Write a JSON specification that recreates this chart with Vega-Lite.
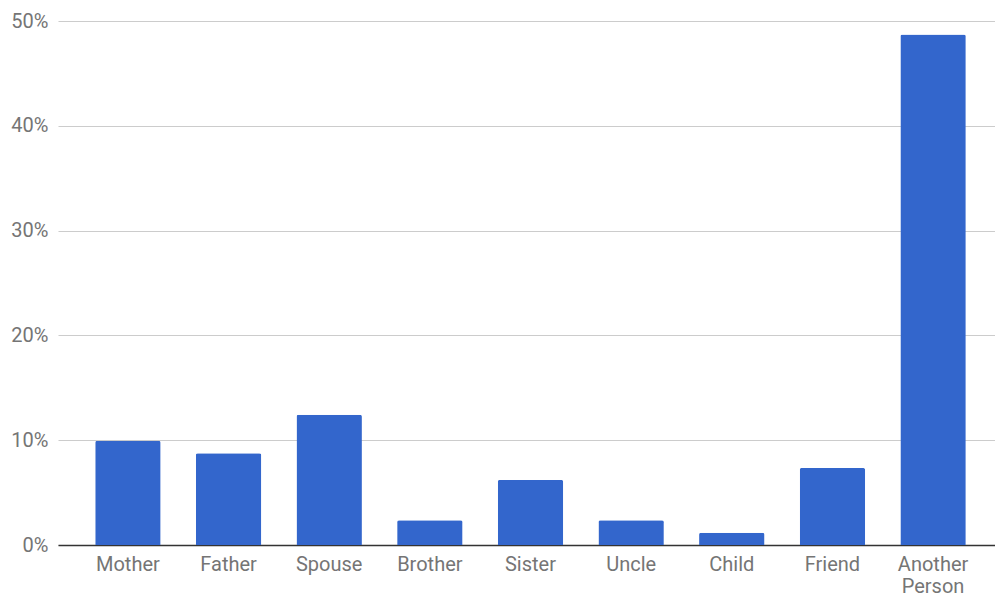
{
  "$schema": "https://vega.github.io/schema/vega-lite/v6.json",
  "autosize": {"type": "none"},
  "width": 937,
  "height": 524,
  "padding": {"left": 58, "top": 21, "right": 0, "bottom": 54},
  "background": "white",
  "data": {
    "values": [
      {"who": "Mother", "share": 0.0995},
      {"who": "Father", "share": 0.0875},
      {"who": "Spouse", "share": 0.1243},
      {"who": "Brother", "share": 0.0237},
      {"who": "Sister", "share": 0.0621},
      {"who": "Uncle", "share": 0.0237},
      {"who": "Child", "share": 0.0117},
      {"who": "Friend", "share": 0.0735},
      {"who": "Another Person", "share": 0.487}
    ]
  },
  "config": {
    "view": {"stroke": null},
    "font": "Roboto"
  },
  "mark": {"type": "bar", "color": "#3366cc", "cornerRadiusTopLeft": 2, "cornerRadiusTopRight": 2},
  "encoding": {
    "x": {
      "field": "who",
      "type": "nominal",
      "sort": null,
      "title": null,
      "scale": {"paddingInner": 0.35, "paddingOuter": 0.33, "align": 0.56},
      "axis": {
        "labelAngle": 0,
        "ticks": false,
        "domainColor": "#333333",
        "domainWidth": 1.5,
        "labelColor": "#757575",
        "labelFontSize": 20,
        "labelPadding": 9,
        "labelExpr": "split(datum.label, ' ')",
        "labelLineHeight": 22
      }
    },
    "y": {
      "field": "share",
      "type": "quantitative",
      "title": null,
      "scale": {"domain": [0, 0.5], "nice": false},
      "axis": {
        "values": [0, 0.1, 0.2, 0.3, 0.4, 0.5],
        "format": ".0%",
        "domain": false,
        "ticks": false,
        "gridColor": "#cccccc",
        "gridWidth": 1.2,
        "labelColor": "#757575",
        "labelFontSize": 20,
        "labelPadding": 10
      }
    }
  }
}
